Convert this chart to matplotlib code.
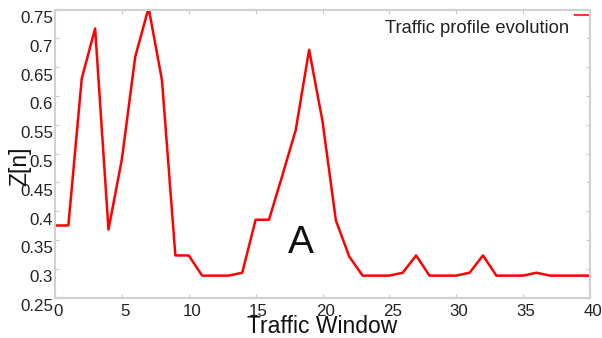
import numpy as np
import matplotlib
matplotlib.use("Agg")
import matplotlib.pyplot as plt
import matplotlib.transforms as mtransforms
from matplotlib.lines import Line2D

plt.rcParams['font.family'] = ['Liberation Sans', 'DejaVu Sans']

# Traffic profile Z[n] per traffic window
windows = list(range(0, 41))
z_values = [0.375, 0.375, 0.63, 0.717, 0.368, 0.49, 0.668, 0.753, 0.627, 0.323,
            0.323, 0.288, 0.288, 0.288, 0.293, 0.385, 0.385, 0.462, 0.541, 0.680,
            0.556, 0.384, 0.321, 0.288, 0.288, 0.288, 0.293, 0.323, 0.288, 0.288,
            0.288, 0.293, 0.323, 0.288, 0.288, 0.288, 0.293, 0.288, 0.288, 0.288,
            0.288]
x_ticks = [0, 5, 10, 15, 20, 25, 30, 35, 40]
y_ticks = [0.25, 0.3, 0.35, 0.4, 0.45, 0.5, 0.55, 0.6, 0.65, 0.7, 0.75]
y_tick_labels = ['0.25', '0.3', '0.35', '0.4', '0.45', '0.5', '0.55', '0.6', '0.65', '0.7', '0.75']

fig = plt.figure(figsize=(6.02, 3.38), dpi=100)
ax = fig.add_axes([55 / 602, 1 - 297.5 / 338, 535 / 602, 288 / 338])

ax.plot(windows, z_values, color='#ff0000', lw=1.8)
ax.set_xlim(0, 40)
ax.set_ylim(0.25, 0.75)

ax.set_xticks(x_ticks)
ax.set_yticks(y_ticks)
ax.set_yticklabels(y_tick_labels)
ax.tick_params(direction='in', length=3, width=0.8, color='#c8c8c8',
               labelsize=12.2, top=True, right=True, labelcolor='#222222')
ax.tick_params(axis='x', pad=5)
ax.tick_params(axis='y', pad=1.5)
# tick labels are drawn a little off their ticks (x: right, y: down)
shift_x = mtransforms.ScaledTranslation(3 / 100, 0, fig.dpi_scale_trans)
for lbl in ax.get_xticklabels():
    lbl.set_transform(lbl.get_transform() + shift_x)
shift_y = mtransforms.ScaledTranslation(0, -7.5 / 100, fig.dpi_scale_trans)
for lbl in ax.get_yticklabels():
    lbl.set_transform(lbl.get_transform() + shift_y)

for side in ['left', 'right', 'top', 'bottom']:
    ax.spines[side].set_color('#d0d0d0')
    ax.spines[side].set_linewidth(1.5)

ax.set_xlabel('Traffic Window', fontsize=16.5, color='#111111')
ax.xaxis.set_label_coords(0.5, -0.10)
ax.xaxis.label.set_va('center')
ax.set_ylabel('Z[n]', fontsize=16.5, color='#111111')
ax.yaxis.set_label_coords(-0.066, 0.455)
ax.yaxis.label.set_va('center')

ax.text(18.35, 0.344, 'A', fontsize=28, ha='center', va='center', color='#111111')

# legend: text first, short line to the right and a bit higher
ax.text(0.961, 0.935, 'Traffic profile evolution', transform=ax.transAxes,
        fontsize=13.2, ha='right', va='center', color='#222222')
ax.add_line(Line2D([0.972, 0.997], [0.98, 0.98], transform=ax.transAxes,
                   color='#ff0000', lw=1.5, alpha=0.8))

fig.savefig('out.png', dpi=100)
